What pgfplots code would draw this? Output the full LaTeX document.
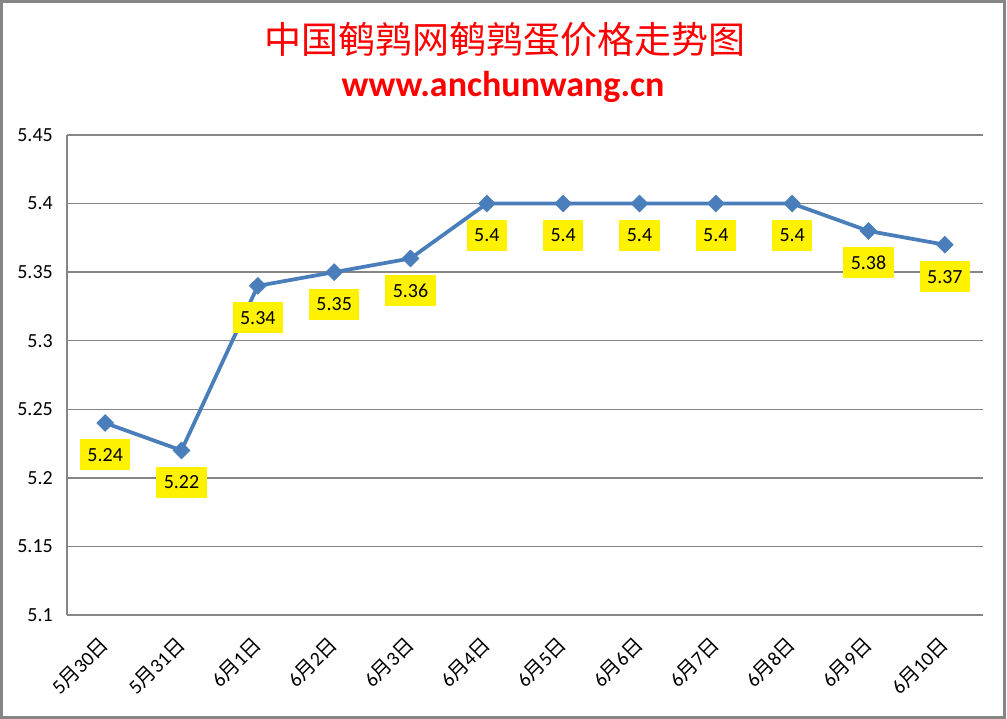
\documentclass[border=0pt]{standalone}
\usepackage{pgfplots}
\pgfplotsset{compat=1.18}
\usepackage{fontspec}
\setmainfont{Carlito}
\newfontfamily\cjk{Noto Sans CJK SC}
\definecolor{linec}{RGB}{74,126,187}
\definecolor{gridc}{RGB}{134,134,134}
\newcommand{\M}{{\cjk 月}}
\newcommand{\D}{{\cjk 日}}
\begin{document}
\begin{tikzpicture}[x=1pt,y=1pt]
\useasboundingbox (0,0) rectangle (1007,719);
\draw[gridc, line width=2.5pt] (1.25,1.25) rectangle (1004.5,717.5);
\node[text=red, font=\fontsize{37}{44}\selectfont\cjk] at (505,679) {中国鹌鹑网鹌鹑蛋价格走势图};
\node[text=red, font=\fontsize{36}{43}\selectfont\bfseries, anchor=base] at (503,622) {www.anchunwang.cn};
\begin{axis}[
  at={(67pt,104pt)}, anchor=south west, scale only axis, width=916pt, height=480pt,
  xmin=-0.5, xmax=11.5, ymin=5.1, ymax=5.45,
  xtick={0,...,11},
  xticklabels={5\M30\D, 5\M31\D, 6\M1\D, 6\M2\D, 6\M3\D, 6\M4\D, 6\M5\D, 6\M6\D, 6\M7\D, 6\M8\D, 6\M9\D, 6\M10\D},
  ytick={5.1,5.15,5.2,5.25,5.3,5.35,5.4,5.45},
  yticklabels={5.1,5.15,5.2,5.25,5.3,5.35,5.4,5.45},
  axis x line*=bottom, axis y line*=left,
  axis line style={gridc, line width=1.5pt, -},
  ymajorgrids, grid style={gridc, line width=1.5pt},
  major tick length=0pt,
  tick label style={font=\fontsize{20}{24}\selectfont, inner sep=0pt},
  yticklabel style={xshift=-14pt},
  xticklabel style={yshift=-26pt, rotate=45, anchor=east},
  clip=false,
  /pgf/number format/assume math mode=true,
]
\addplot[linec, line width=3.75pt, mark=square*, mark size=6pt,
  mark options={rotate=45, solid, fill=linec, draw=linec, line width=0.5pt},
  nodes near coords,
  nodes near coords style={anchor=center, yshift=-32pt, fill=yellow, text=black, minimum height=31pt, inner xsep=7.5pt, inner ysep=0pt, font=\fontsize{20}{24}\selectfont}]
coordinates {(0,5.24) (1,5.22) (2,5.34) (3,5.35) (4,5.36) (5,5.4) (6,5.4) (7,5.4) (8,5.4) (9,5.4) (10,5.38) (11,5.37)};
\end{axis}
\end{tikzpicture}
\end{document}
